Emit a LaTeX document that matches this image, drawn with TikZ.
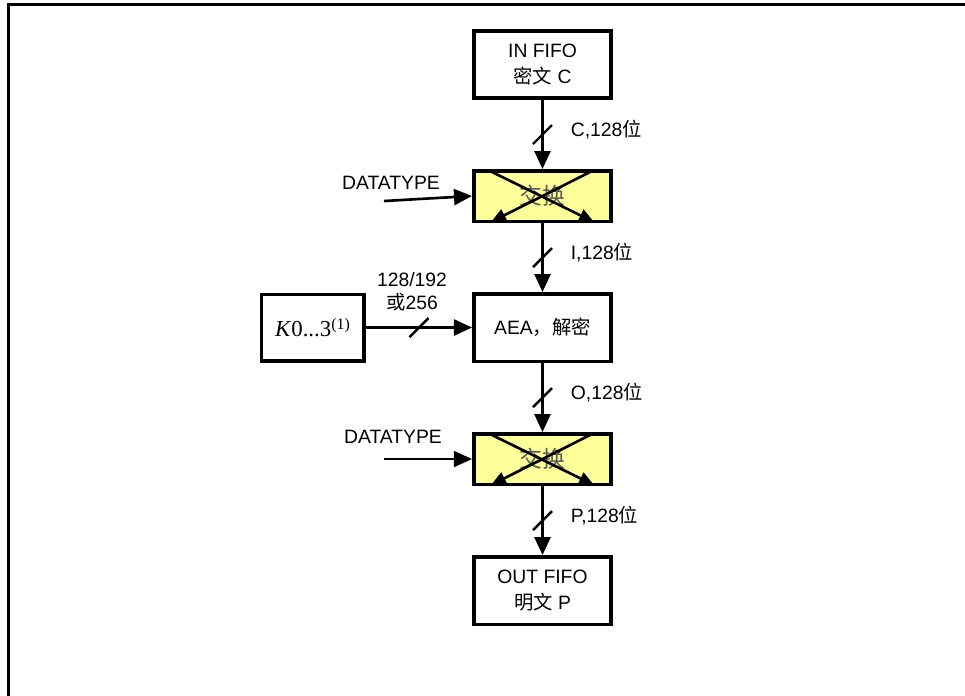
\documentclass[tikz,border=0pt]{standalone}
\usepackage{fontspec}
\setmainfont{Liberation Sans}
\newfontfamily\cjk{Noto Sans CJK SC}
\newfontfamily\timesfont{Liberation Serif}
\usetikzlibrary{positioning, arrows.meta, calc}
\definecolor{swapyellow}{RGB}{255,255,153}
\tikzset{
  % Boxes
  block/.style={
    draw, line width=2pt, align=center,
    minimum width=2.75cm, minimum height=1.35cm,
    inner sep=2pt, font=\fontsize{11}{15}\selectfont
  },
  swapbox/.style={
    block, fill=swapyellow, minimum height=1.01cm, text=black!65,
    font=\fontsize{13}{15}\selectfont
  },
  keybox/.style={
    block, minimum width=2.05cm, minimum height=1.33cm
  },
  % Arrows
  flow/.style={
    -{Triangle[length=0.36cm, width=0.32cm]}, line width=1.5pt
  },
  crossarrow/.style={
    -{Triangle[length=0.3cm, width=0.26cm]}, line width=1.5pt
  },
  % Labels
  buslabel/.style={
    anchor=west, inner sep=0pt, xshift=0.56cm, yshift=0.1cm,
    font=\fontsize{11}{13}\selectfont
  },
  inlabel/.style={
    inner sep=0pt, font=\fontsize{11}{13}\selectfont
  },
  frame/.style={line width=1.7pt},
}
\newcommand{\busslash}[1]{%
  \draw[line width=1.4pt] ($(#1)+(-0.19,-0.19)$) -- ($(#1)+(0.19,0.19)$);
}
\newcommand{\swapcross}[1]{%
  \draw[crossarrow] ($(#1.north west)+(0.36,-0.04)$) -- ($(#1.south east)+(-0.38,0.02)$);
  \draw[crossarrow] ($(#1.north east)+(-0.42,-0.04)$) -- ($(#1.south west)+(0.38,0.02)$);
}

\begin{document}
\begin{tikzpicture}[node distance=1.38cm and 2.12cm]

  \useasboundingbox (0,0) rectangle (19.3,-13.92);
  \draw[frame] (0.174,-13.92) -- (0.174,-0.094) -- (19.3,-0.094);

  %% ── Main chain ──
  \node[block] (infifo) at (10.85,-1.29) {IN FIFO\\{\cjk 密文} C};
  \node[swapbox, below=of infifo] (swap1) {{\cjk 交换}};
  \node[block, below=of swap1]    (aea)   {AEA{\cjk ，解密}};
  \node[swapbox, below=of aea]    (swap2) {{\cjk 交换}};
  \node[block, below=of swap2]    (outfifo) {OUT FIFO\\{\cjk 明文} P};

  %% ── Key ──
  \node[keybox, left=of aea] (key)
    {\timesfont\fontsize{13}{15}\selectfont\textit{K}0...3\textsuperscript{(1)}};

  %% ── Swap crosses ──
  \swapcross{swap1}
  \swapcross{swap2}

  %% ── DATATYPE inputs ──
  \coordinate (dt1) at ($(swap1.west)+(-1.76,-0.1)$);
  \coordinate (dt2) at ($(swap2.west)+(-1.76,0)$);
  \draw[flow] (dt1) -- (swap1.west);
  \draw[flow, line width=0.9pt] (dt2) -- (swap2.west);
  \node[inlabel] (dtlabel1) at ($(dt1)+(0.14,0.36)$) {DATATYPE};
  \node[inlabel] (dtlabel2) at ($(dt2)+(0.18,0.44)$) {DATATYPE};

  %% ── Buses ──
  \draw[flow] (infifo) -- coordinate[midway] (bus1) (swap1);
  \busslash{bus1}
  \node[buslabel] (buslbl1) at (bus1) {C,128{\cjk 位}};

  \draw[flow] (swap1) -- coordinate[midway] (bus2) (aea);
  \busslash{bus2}
  \node[buslabel] (buslbl2) at (bus2) {I,128{\cjk 位}};

  \draw[flow] (aea) -- coordinate[midway] (bus3) (swap2);
  \busslash{bus3}
  \node[buslabel] (buslbl3) at (bus3) {O,128{\cjk 位}};

  \draw[flow] (swap2) -- coordinate[midway] (bus4) (outfifo);
  \busslash{bus4}
  \node[buslabel] (buslbl4) at (bus4) {P,128{\cjk 位}};

  \draw[flow] (key) -- coordinate[midway] (bus5) (aea);
  \busslash{bus5}
  \node[inlabel, align=center, above=0.32cm of bus5, xshift=-0.14cm] (keylbl)
    {128/192\\{\cjk 或}256};

\end{tikzpicture}
\end{document}
